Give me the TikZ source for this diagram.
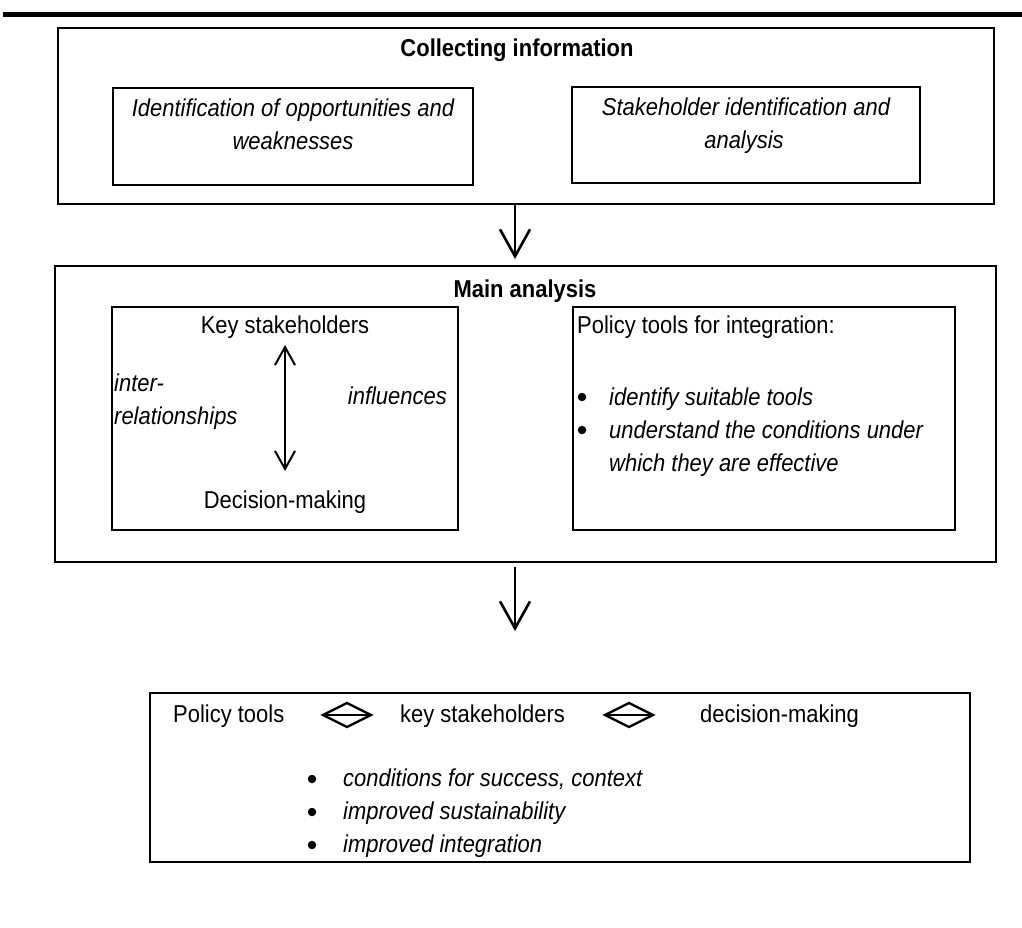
\documentclass[tikz,border=0pt]{standalone}
\usepackage{fontspec}
\setmainfont{Liberation Sans}[FakeStretch=0.9]
\usetikzlibrary{arrows.meta}
\begin{document}
\begin{tikzpicture}[x=1pt,y=-1pt,
  box/.style={draw,line width=2pt},
  txt/.style={inner sep=0pt,font=\fontsize{24.4}{33}\selectfont},
  ttl/.style={txt,font=\fontsize{24.4}{33}\selectfont\bfseries},
  itx/.style={txt,font=\fontsize{24.4}{33}\selectfont\itshape},
  dot/.style={circle,fill,inner sep=0pt,minimum size=8.5pt},
  flow/.style={line width=2.6pt,-{Straight Barb[length=27pt,width=30pt,line width=2.6pt]}},
  link/.style={line width=2pt,{Straight Barb[length=18pt,width=20pt]}-{Straight Barb[length=18pt,width=20pt]}},
  swap/.style={line width=2.4pt,line join=miter}]
\useasboundingbox (0,0) rectangle (1022,928);
\fill[white] (0,0) rectangle (1022,928);

% heading rule
\draw[line width=5pt] (3,14.5) -- (1022,14.5);

% stage 1: collecting information
\draw[box] (58,28) rectangle (994,204);
\node[ttl,anchor=base] (t1) at (517,57) {Collecting information};
\draw[box] (113,88) rectangle (473,185);
\node[itx,anchor=base] (o1) at (293,117) {Identification of opportunities and};
\node[itx,anchor=base] (o2) at (293,150) {weaknesses};
\draw[box] (572,87) rectangle (920,183);
\node[itx,anchor=base] (k1) at (746,116) {Stakeholder identification and};
\node[itx,anchor=base] (k2) at (744,149) {analysis};

% stage 2: main analysis
\draw[box] (55,266) rectangle (996,562);
\node[ttl,anchor=base] (t2) at (525,297) {Main analysis};
\draw[box] (112,307) rectangle (458,530);
\node[txt,anchor=base] (ks) at (285,333) {Key stakeholders};
\node[txt,anchor=base] (dm) at (285,508) {Decision-making};
\node[itx,anchor=base west] (ir1) at (114,391) {inter-};
\node[itx,anchor=base west] (ir2) at (114,424) {relationships};
\node[itx,anchor=base east] (inf) at (447,404) {influences};
\coordinate (lk1) at (285,345);
\coordinate (lk2) at (285,471);
\draw[link] (lk1) -- (lk2);

\draw[box] (573,307) rectangle (955,530);
\node[txt,anchor=base west] (pt) at (577,333) {Policy tools for integration:};
\node[dot] (b1) at (582,397) {};
\node[itx,anchor=base west] (l1) at (609,405) {identify suitable tools};
\node[dot] (b2) at (582,430) {};
\node[itx,anchor=base west] (l2) at (609,438) {understand the conditions under};
\node[itx,anchor=base west] (l3) at (609,471) {which they are effective};

% flow between stages
\coordinate (f1a) at (515,204);
\coordinate (f1b) at (515,259);
\draw[flow] (f1a) -- (f1b);
\coordinate (f2a) at (515,567);
\coordinate (f2b) at (515,631);
\draw[flow] (f2a) -- (f2b);

% stage 3: outcome
\draw[box] (150,693) rectangle (970,862);
\node[txt,anchor=base west] (r1) at (173,722) {Policy tools};
\node[txt,anchor=base west] (r2) at (400,722) {key stakeholders};
\node[txt,anchor=base west] (r3) at (700,722) {decision-making};
\foreach \cx [count=\i] in {347,629}{
  \coordinate (dl\i) at (\cx-24,715);
  \coordinate (dr\i) at (\cx+24,715);
  \draw[swap] (dl\i) -- (\cx,703) -- (dr\i) -- (\cx,727) -- cycle;
  \draw[line width=1.6pt] (dl\i) -- (dr\i);
}
\node[dot] (c1) at (312,779) {};
\node[itx,anchor=base west] (m1) at (343,786) {conditions for success, context};
\node[dot] (c2) at (312,812) {};
\node[itx,anchor=base west] (m2) at (343,819) {improved sustainability};
\node[dot] (c3) at (312,845) {};
\node[itx,anchor=base west] (m3) at (343,852) {improved integration};
\end{tikzpicture}
\end{document}
